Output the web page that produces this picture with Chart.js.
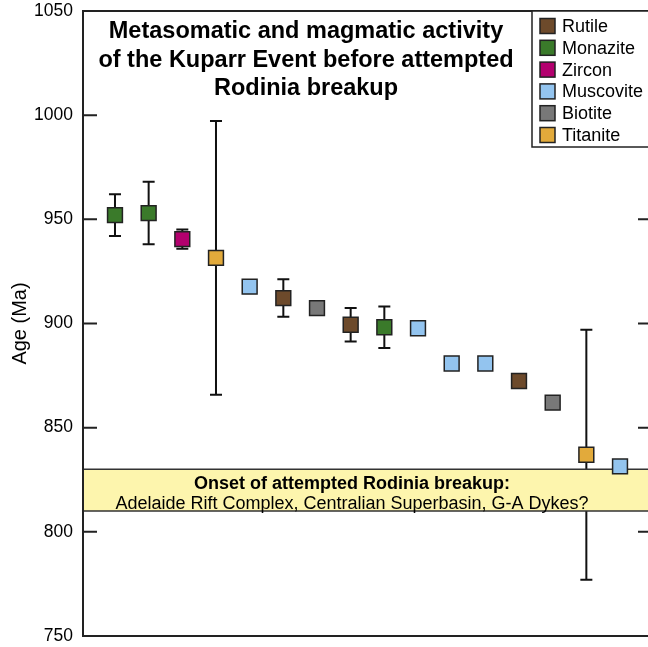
<!DOCTYPE html>
<html>
<head>
<meta charset="utf-8">
<script src="https://cdn.jsdelivr.net/npm/chart.js@4.4.1/dist/chart.umd.min.js"></script>
<style>
  html, body { margin: 0; padding: 0; background: #fff; overflow: hidden; }
</style>
</head>
<body>
<canvas id="ageChart" width="652" height="647"></canvas>
<script>
// one entry per dated sample, left to right
const minerals = ['Monazite', 'Monazite', 'Zircon', 'Titanite', 'Muscovite', 'Rutile', 'Biotite', 'Rutile',
                  'Monazite', 'Muscovite', 'Muscovite', 'Muscovite', 'Rutile', 'Biotite', 'Titanite', 'Muscovite'];
const ages = [952, 953, 940.5, 931.5, 917.7, 912.2, 907.4, 899.4, 898.2, 897.7, 880.8, 880.8, 872.4, 862, 837, 831.4];
const errs = [10, 15, 4.6, 65.7, 0, 9, 0, 8, 10, 0, 0, 0, 0, 2, 60, 0];

const legendNames = ['Rutile', 'Monazite', 'Zircon', 'Muscovite', 'Biotite', 'Titanite'];
const legendColors = ['#6d4a2b', '#3a7a2a', '#b3006e', '#93c4ef', '#787878', '#e2aa3b'];

const yTicks = [750, 800, 850, 900, 950, 1000, 1050];
const breakup = [810, 830];

const titleLines = ['Metasomatic and magmatic activity', 'of the Kuparr Event before attempted', 'Rodinia breakup'];
const breakupLines = ['Onset of attempted Rodinia breakup:', 'Adelaide Rift Complex, Centralian Superbasin, G-A Dykes?'];

const FONT = '"Liberation Sans", Arial, sans-serif';
const INK = '#222';

const datasets = legendNames.map((name, i) => ({
    label: name,
    data: ages.map((a, j) => ({x: j + 1, y: a, e: errs[j]})).filter((p, j) => minerals[j] === name),
    backgroundColor: legendColors[i],
    borderColor: INK,
    borderWidth: 1.5,
    pointStyle: 'rect',
    pointRadius: 10.5,
    showLine: false
}));

// error bars, then the yellow band over them
const underlay = {
    id: 'underlay',
    beforeDatasetsDraw(chart) {
        const {ctx, chartArea: a, scales: {y}} = chart;
        ctx.save();
        ctx.strokeStyle = '#111';
        ctx.lineWidth = 2;
        chart.data.datasets.forEach((ds, di) => {
            chart.getDatasetMeta(di).data.forEach((pt, k) => {
                const p = ds.data[k];
                if (!p.e) return;
                const y1 = y.getPixelForValue(p.y + p.e), y2 = y.getPixelForValue(p.y - p.e);
                ctx.beginPath();
                ctx.moveTo(pt.x, y1); ctx.lineTo(pt.x, y2);
                ctx.moveTo(pt.x - 6, y1); ctx.lineTo(pt.x + 6, y1);
                ctx.moveTo(pt.x - 6, y2); ctx.lineTo(pt.x + 6, y2);
                ctx.stroke();
            });
        });

        const top = y.getPixelForValue(breakup[1]), bot = y.getPixelForValue(breakup[0]);
        ctx.fillStyle = '#fdf5ad';
        ctx.fillRect(a.left, top, a.right - a.left, bot - top);
        ctx.strokeStyle = '#333';
        ctx.lineWidth = 1.5;
        ctx.beginPath();
        ctx.moveTo(a.left, top); ctx.lineTo(a.right, top);
        ctx.moveTo(a.left, bot); ctx.lineTo(a.right, bot);
        ctx.stroke();

        ctx.fillStyle = '#000';
        ctx.textAlign = 'center';
        ctx.textBaseline = 'alphabetic';
        const cx = a.left + 269;
        ctx.font = 'bold 18px ' + FONT;
        ctx.fillText(breakupLines[0], cx, top + 19.5);
        ctx.font = '18px ' + FONT;
        ctx.fillText(breakupLines[1], cx, top + 39.5);
        ctx.restore();
    }
};

// frame, inward ticks, title and legend box
const overlay = {
    id: 'overlay',
    afterDatasetsDraw(chart) {
        const {ctx, chartArea: a, scales: {y}} = chart;
        ctx.save();
        ctx.strokeStyle = INK;
        ctx.lineWidth = 2;
        ctx.strokeRect(a.left, a.top, a.right - a.left, a.bottom - a.top);
        ctx.beginPath();
        yTicks.forEach(v => {
            const py = y.getPixelForValue(v);
            ctx.moveTo(a.left, py); ctx.lineTo(a.left + 14, py);
            ctx.moveTo(a.right - 14, py); ctx.lineTo(a.right, py);
        });
        ctx.stroke();

        ctx.fillStyle = '#000';
        ctx.textAlign = 'center';
        ctx.font = 'bold 23.5px ' + FONT;
        titleLines.forEach((t, i) => ctx.fillText(t, a.left + 223, a.top + 27 + i * 28.5));

        const lx = 532, lw = a.right - lx, lh = 136;
        ctx.fillStyle = '#fff';
        ctx.fillRect(lx, a.top, lw, lh);
        ctx.lineWidth = 1.5;
        ctx.strokeStyle = INK;
        ctx.strokeRect(lx, a.top, lw, lh);
        ctx.textAlign = 'left';
        ctx.textBaseline = 'middle';
        ctx.font = '18px ' + FONT;
        chart.data.datasets.forEach((ds, i) => {
            const cy = a.top + 15 + i * 21.8;
            ctx.fillStyle = ds.backgroundColor;
            ctx.fillRect(lx + 8, cy - 7.5, 15, 15);
            ctx.strokeRect(lx + 8, cy - 7.5, 15, 15);
            ctx.fillStyle = '#000';
            ctx.fillText(ds.label, lx + 30, cy + 1);
        });
        ctx.restore();
    }
};

new Chart(document.getElementById('ageChart'), {
    type: 'scatter',
    data: {datasets: datasets},
    options: {
        responsive: false,
        animation: false,
        events: [],
        layout: {autoPadding: false, padding: {top: 11, bottom: 11, left: 0, right: 0}},
        scales: {
            x: {
                type: 'linear',
                display: false,
                min: 0.05,
                max: 16.95
            },
            y: {
                min: 750,
                max: 1050,
                afterFit: function (scale) {
                    scale.width = 83;
                    scale.paddingTop = 0;
                    scale.paddingBottom = 0;
                },
                grid: {display: false, drawTicks: false},
                border: {display: false},
                ticks: {
                    stepSize: 50,
                    padding: 10,
                    color: '#000',
                    font: {size: 17.5, family: FONT},
                    callback: v => String(v)
                },
                title: {
                    display: true,
                    text: 'Age (Ma)',
                    color: '#000',
                    padding: {top: 8, bottom: 0},
                    font: {size: 20, family: FONT}
                }
            }
        },
        plugins: {
            legend: {display: false},
            tooltip: {enabled: false}
        }
    },
    plugins: [underlay, overlay]
});
</script>
</body>
</html>
